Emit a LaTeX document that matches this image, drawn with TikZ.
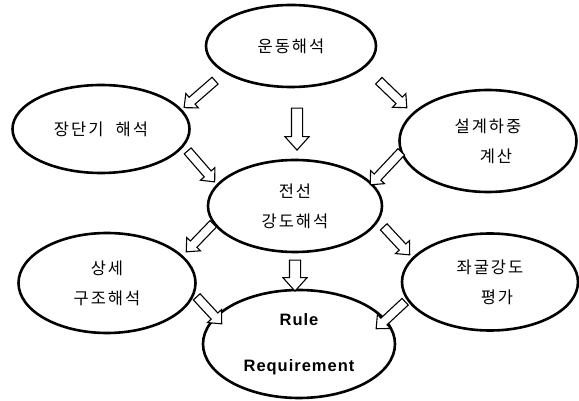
\documentclass[tikz,border=0pt]{standalone}
\usepackage{fontspec}
\usetikzlibrary{calc,shapes.geometric,shapes.arrows}
\newfontfamily\kor[LetterSpace=12]{Noto Sans CJK KR}
\newfontfamily\rulefont[LetterSpace=6]{Liberation Sans}
\tikzset{
  bubble/.style     = {ellipse, draw, line width=2.6pt, inner sep=0pt,
                       align=center, font=\kor\fontsize{16.5}{30}\selectfont},
  blockarrow/.style = {single arrow, draw, line width=1.1pt, fill=white,
                       inner xsep=0pt, inner ysep=4pt,
                       single arrow head extend=5pt, single arrow tip angle=84},
  widearrow/.style  = {blockarrow, inner ysep=5pt, single arrow head extend=6.5pt},
}
\newcommand{\blockarr}[3][]{%
  \path let \p1=($(#3)-(#2)$), \n1={veclen(\x1,\y1)}, \n2={atan2(\y1,\x1)} in
    node[blockarrow, #1, minimum height=\n1, rotate=\n2] at ($(#2)!0.5!(#3)$) {};}

\begin{document}
\begin{tikzpicture}[x=1pt, y=-1pt]
  \useasboundingbox (0,0) rectangle (579,401);

  % bubbles
  \node[bubble, minimum width=170pt, minimum height=82pt] (motion)   at (291,46)  {운동해석};
  \node[bubble, minimum width=177pt, minimum height=88pt] (longterm) at (101,129) {장단기\hspace{0.4em} 해석};
  \node[bubble, minimum width=177pt, minimum height=102pt] (load)    at (488,141) {설계하중\\\hspace*{16pt}계산};
  \node[bubble, minimum width=174pt, minimum height=92pt] (cable)    at (295,206) {전선\\강도해석};
  \node[bubble, minimum width=177pt, minimum height=100pt] (detail)  at (107,283) {상세\\구조해석};
  \node[bubble, minimum width=176pt, minimum height=97pt] (buckle)   at (490,282) {좌굴강도\\\hspace*{14pt}평가};
  \node[bubble, minimum width=192pt, minimum height=108pt,
        font=\rulefont\bfseries\fontsize{16.5}{46}\selectfont] (rule) at (299,344) {Rule\\Requirement};

  % arrow ends
  \coordinate (motion-l)  at (217,79);  \coordinate (longterm-t) at (186,106);
  \coordinate (motion-r)  at (377,79);  \coordinate (load-t)     at (405,106);
  \coordinate (motion-b)  at (297,105); \coordinate (cable-t)    at (297,147);
  \coordinate (longterm-r) at (186,149); \coordinate (cable-l)   at (213,180);
  \coordinate (load-l)    at (403,150); \coordinate (cable-r)    at (372,183);
  \coordinate (cable-sw)  at (215,222); \coordinate (detail-t)   at (188,250);
  \coordinate (cable-se)  at (382,225); \coordinate (buckle-t)   at (408,253);
  \coordinate (cable-b)   at (295,257); \coordinate (rule-t)     at (295,288);
  \coordinate (detail-r)  at (195,295); \coordinate (rule-l)     at (220,322);
  \coordinate (buckle-l)  at (407,300); \coordinate (rule-r)     at (378,327);

  % arrows
  \blockarr{motion-l}{longterm-t}
  \blockarr{motion-r}{load-t}
  \blockarr[widearrow]{motion-b}{cable-t}
  \blockarr{longterm-r}{cable-l}
  \blockarr{load-l}{cable-r}
  \blockarr{cable-sw}{detail-t}
  \blockarr{cable-se}{buckle-t}
  \blockarr[widearrow]{cable-b}{rule-t}
  \blockarr{detail-r}{rule-l}
  \blockarr{buckle-l}{rule-r}
\end{tikzpicture}
\end{document}
